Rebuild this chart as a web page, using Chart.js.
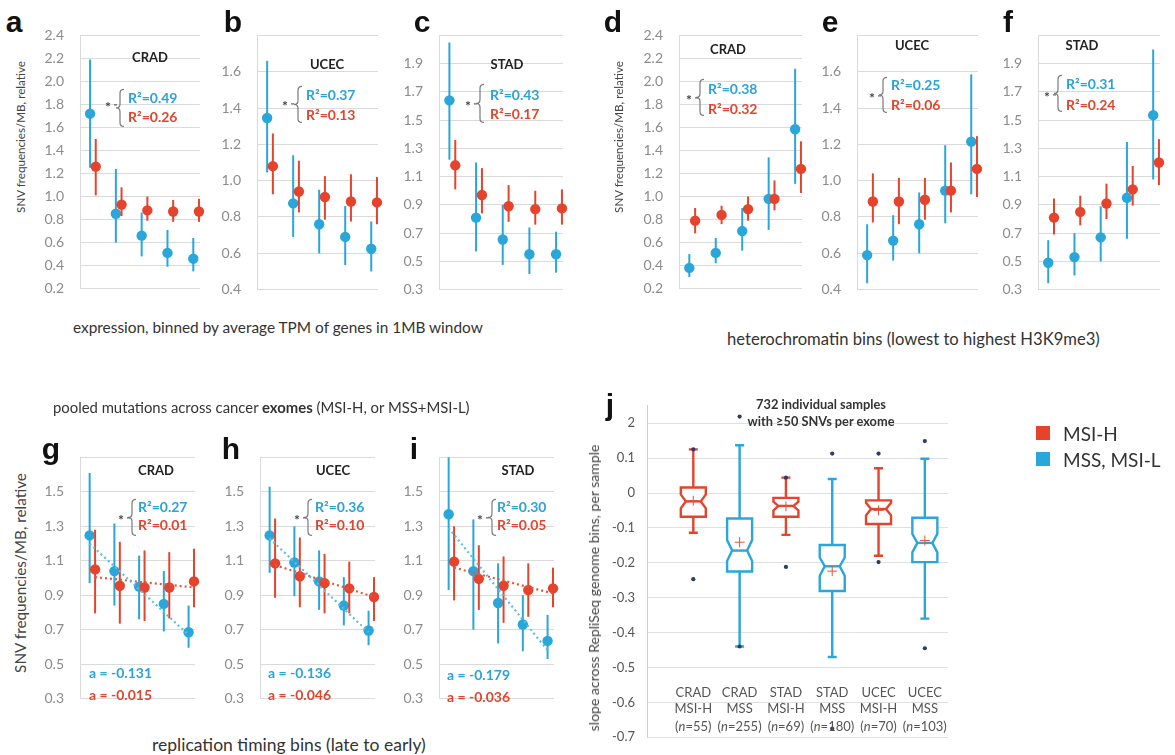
<!DOCTYPE html>
<html>
<head>
<meta charset="utf-8">
<title>SNV frequencies per MB</title>
<script src="https://cdn.jsdelivr.net/npm/chart.js@4.4.1/dist/chart.umd.min.js"></script>
<style>
  body { margin: 0; width: 1175px; height: 755px; position: relative; overflow: hidden; background: #fff; font-family: Lato, sans-serif; }
  .panel { position: absolute; }
  .t { position: absolute; white-space: nowrap; line-height: 1; color: #333; }
  .sq { position: absolute; width: 14px; height: 14px; }
</style>
</head>
<body>
<script>
// ---------------- data ----------------
const bins = [1, 2, 3, 4, 5];

// y tick values per panel layout
const ticks24 = [0.2, 0.4, 0.6, 0.8, 1.0, 1.2, 1.4, 1.6, 1.8, 2.0, 2.2, 2.4];
const ticks18 = [0.4, 0.6, 0.8, 1.0, 1.2, 1.4, 1.6, 1.8];
const ticks21 = [0.3, 0.5, 0.7, 0.9, 1.1, 1.3, 1.5, 1.7, 1.9, 2.1];
const ticks17 = [0.3, 0.5, 0.7, 0.9, 1.1, 1.3, 1.5, 1.7];

// a: expression, CRAD
const aBlue = [1.72, 0.85, 0.66, 0.51, 0.46];
const aBlueLo = [1.25, 0.60, 0.48, 0.39, 0.35];
const aBlueHi = [2.19, 1.24, 0.86, 0.71, 0.64];
const aRed = [1.26, 0.93, 0.88, 0.87, 0.87];
const aRedLo = [1.01, 0.83, 0.79, 0.78, 0.78];
const aRedHi = [1.50, 1.08, 1.00, 0.97, 0.98];

// b: expression, UCEC
const bBlue = [1.345, 0.875, 0.76, 0.69, 0.625];
const bBlueLo = [1.045, 0.69, 0.60, 0.535, 0.50];
const bBlueHi = [1.66, 1.14, 0.95, 0.86, 0.775];
const bRed = [1.08, 0.94, 0.91, 0.885, 0.88];
const bRedLo = [0.925, 0.825, 0.785, 0.775, 0.76];
const bRedHi = [1.26, 1.11, 1.025, 1.035, 1.02];

// c: expression, STAD
const cBlue = [1.64, 0.81, 0.655, 0.55, 0.55];
const cBlueLo = [1.22, 0.57, 0.475, 0.41, 0.42];
const cBlueHi = [2.05, 1.20, 0.90, 0.74, 0.71];
const cRed = [1.18, 0.97, 0.89, 0.87, 0.875];
const cRedLo = [1.01, 0.84, 0.78, 0.76, 0.76];
const cRedHi = [1.36, 1.16, 1.04, 1.00, 1.01];

// d: heterochromatin, CRAD
const dBlue = [0.38, 0.51, 0.70, 0.98, 1.585];
const dBlueLo = [0.30, 0.42, 0.53, 0.71, 1.11];
const dBlueHi = [0.50, 0.64, 0.90, 1.34, 2.11];
const dRed = [0.79, 0.84, 0.89, 0.98, 1.24];
const dRedLo = [0.68, 0.76, 0.79, 0.88, 1.03];
const dRedHi = [0.90, 0.92, 1.00, 1.14, 1.48];

// e: heterochromatin, UCEC
const eBlue = [0.59, 0.67, 0.76, 0.945, 1.215];
const eBlueLo = [0.435, 0.56, 0.60, 0.765, 0.925];
const eBlueHi = [0.76, 0.81, 0.935, 1.195, 1.585];
const eRed = [0.885, 0.885, 0.895, 0.945, 1.065];
const eRedLo = [0.77, 0.76, 0.785, 0.825, 0.91];
const eRedHi = [1.04, 1.015, 1.015, 1.10, 1.245];

// f: heterochromatin, STAD
const fBlue = [0.49, 0.53, 0.67, 0.95, 1.535];
const fBlueLo = [0.345, 0.40, 0.50, 0.66, 1.08];
const fBlueHi = [0.65, 0.70, 0.89, 1.345, 2.0];
const fRed = [0.81, 0.85, 0.91, 1.01, 1.20];
const fRedLo = [0.69, 0.755, 0.80, 0.895, 1.04];
const fRedHi = [0.945, 0.965, 1.05, 1.175, 1.365];

// g: replication timing, CRAD
const gBlue = [1.247, 1.04, 0.95, 0.85, 0.685];
const gBlueLo = [0.97, 0.84, 0.76, 0.69, 0.595];
const gBlueHi = [1.61, 1.316, 1.13, 1.04, 0.84];
const gRed = [1.05, 0.955, 0.945, 0.945, 0.98];
const gRedLo = [0.795, 0.735, 0.75, 0.765, 0.83];
const gRedHi = [1.28, 1.21, 1.16, 1.15, 1.17];
const gTrendBlue = [1.20, 0.67];
const gTrendRed = [1.005, 0.945];

// h: replication timing, UCEC
const hBlue = [1.247, 1.09, 0.98, 0.84, 0.695];
const hBlueLo = [1.03, 0.895, 0.815, 0.725, 0.61];
const hBlueHi = [1.53, 1.30, 1.16, 1.005, 0.81];
const hRed = [1.085, 1.01, 0.97, 0.94, 0.89];
const hRedLo = [0.885, 0.83, 0.795, 0.795, 0.75];
const hRedHi = [1.345, 1.235, 1.14, 1.095, 1.005];
const hTrendBlue = [1.23, 0.685];
const hTrendRed = [1.075, 0.89];

// i: replication timing, STAD
const iBlue = [1.37, 1.04, 0.855, 0.73, 0.635];
const iBlueLo = [0.93, 0.70, 0.62, 0.575, 0.53];
const iBlueHi = [1.70, 1.34, 1.085, 0.90, 0.785];
const iRed = [1.095, 0.995, 0.955, 0.93, 0.94];
const iRedLo = [0.87, 0.815, 0.74, 0.775, 0.83];
const iRedHi = [1.30, 1.19, 1.125, 1.085, 1.06];
const iTrendBlue = [1.29, 0.58];
const iTrendRed = [1.06, 0.91];

// j: per-sample slopes (box plots)
const jCancer = ['CRAD', 'CRAD', 'STAD', 'STAD', 'UCEC', 'UCEC'];
const jGroup = ['MSI-H', 'MSS', 'MSI-H', 'MSS', 'MSI-H', 'MSS'];
const jN = [55, 255, 69, 180, 70, 103];
const jQ3 = [0.016, -0.073, -0.014, -0.149, -0.021, -0.071];
const jQ1 = [-0.068, -0.225, -0.068, -0.281, -0.089, -0.198];
const jMedian = [-0.024, -0.165, -0.037, -0.21, -0.046, -0.143];
const jNotchHi = [-0.004, -0.135, -0.025, -0.185, -0.028, -0.117];
const jNotchLo = [-0.044, -0.195, -0.05, -0.237, -0.064, -0.17];
const jWhiskHi = [0.125, 0.137, 0.044, 0.04, 0.071, 0.098];
const jWhiskLo = [-0.114, -0.44, -0.12, -0.47, -0.18, -0.36];
const jMean = [-0.022, -0.141, -0.038, -0.224, -0.05, -0.136];
const jOutPos = [1, 1, 2, 2, 3, 3, 4, 4, 5, 5, 6, 6];
const jOutVal = [0.125, -0.247, 0.219, -0.44, 0.044, -0.212, 0.113, -0.675, 0.113, -0.198, 0.149, -0.445];
const jTicks = [0.2, 0.1, 0, -0.1, -0.2, -0.3, -0.4, -0.5, -0.6, -0.7];
const jTickText = ['2', '0.1', '0', '-0.1', '-0.2', '-0.3', '-0.4', '-0.5', '-0.6', '-0.7'];

// ---------------- styles ----------------
const BLUE = '#29a6da';
const RED = '#e5432c';
const BLUE_TXT = '#2aa3d6';
const RED_TXT = '#e0452d';
const GRID = '#dadada';
const OFF = 0.11; // horizontal offset of the two series inside a bin

Chart.defaults.font.family = 'Lato';
Chart.defaults.animation = false;

// vertical error bars, drawn just before each dataset's points
const errorBars = {
  id: 'errorBars',
  beforeDatasetDraw(chart, args) {
    const ds = chart.data.datasets[args.index];
    if (!ds.lo) return;
    const ys = chart.scales.y;
    const ctx = chart.ctx;
    ctx.save();
    ctx.strokeStyle = ds.barColor;
    ctx.lineWidth = 2;
    args.meta.data.forEach((pt, k) => {
      ctx.beginPath();
      ctx.moveTo(pt.x, ys.getPixelForValue(ds.lo[k]));
      ctx.lineTo(pt.x, ys.getPixelForValue(ds.hi[k]));
      ctx.stroke();
    });
    ctx.restore();
  }
};

function drawBrace(ctx, x, ya, yb) {
  const m = (ya + yb) / 2, w = 4;
  ctx.beginPath();
  ctx.moveTo(x + w, ya);
  ctx.quadraticCurveTo(x, ya, x, ya + w);
  ctx.lineTo(x, m - w);
  ctx.quadraticCurveTo(x, m, x - w, m);
  ctx.quadraticCurveTo(x, m, x, m + w);
  ctx.lineTo(x, yb - w);
  ctx.quadraticCurveTo(x, yb, x + w, yb);
  ctx.stroke();
}

// panel title, significance brace and R2 / slope annotations
const notes = {
  id: 'notes',
  afterDraw(chart, args, o) {
    if (!o || !o.title) return;
    const ctx = chart.ctx;
    const L = chart.chartArea.left, T = chart.chartArea.top;
    ctx.save();
    ctx.textBaseline = 'middle';
    ctx.textAlign = 'center';
    ctx.fillStyle = '#222';
    ctx.font = 'bold 13px Lato';
    ctx.fillText(o.title, L + o.tx, T + o.ty);

    ctx.fillStyle = '#444';
    ctx.font = 'bold 14px Lato';
    ctx.fillText('*', L + o.sx, T + o.sy + 3);
    ctx.fillRect(L + o.sx + 6, T + o.sy, 3, 1);
    ctx.strokeStyle = '#7a7a7a';
    ctx.lineWidth = 1.2;
    drawBrace(ctx, L + o.bx, T + o.by[0], T + o.by[1]);

    ctx.textAlign = 'left';
    ctx.fillStyle = BLUE_TXT;
    ctx.fillText('R\u00b2=' + o.r2[0], L + o.rx, T + o.ry[0]);
    ctx.fillStyle = RED_TXT;
    ctx.fillText('R\u00b2=' + o.r2[1], L + o.rx, T + o.ry[1]);

    if (o.a) {
      ctx.fillStyle = BLUE_TXT;
      ctx.fillText('a = ' + o.a[0], L + o.ax, T + o.ay[0]);
      ctx.fillStyle = RED_TXT;
      ctx.fillText('a = ' + o.a[1], L + o.ax, T + o.ay[1]);
    }
    ctx.restore();
  }
};

function makeScatter(p) {
  const [x0, y0, x1, y1] = p.box;
  const YW = 46, PADT = 12, PADB = 12, PADR = 8;
  const cv = document.createElement('canvas');
  cv.width = (x1 - x0) + YW + PADR;
  cv.height = (y1 - y0) + PADT + PADB;
  cv.className = 'panel';
  cv.style.left = (x0 - YW) + 'px';
  cv.style.top = (y0 - PADT) + 'px';
  document.body.appendChild(cv);

  const yMin = p.ticks[0], yMax = p.ticks[p.ticks.length - 1];
  const datasets = [
    {
      label: 'MSI-H',
      data: p.red.map((v, k) => ({ x: bins[k] + OFF, y: v })),
      lo: p.redLo, hi: p.redHi, barColor: RED,
      backgroundColor: RED, borderColor: RED, pointRadius: 5.2, borderWidth: 0, clip: false
    },
    {
      label: 'MSS, MSI-L',
      data: p.blue.map((v, k) => ({ x: bins[k] - OFF, y: v })),
      lo: p.blueLo, hi: p.blueHi, barColor: BLUE,
      backgroundColor: BLUE, borderColor: BLUE, pointRadius: 5.2, borderWidth: 0, clip: false
    }
  ];
  if (p.trendBlue) {
    datasets.push({
      type: 'line', order: -1,
      data: [{ x: bins[0] - OFF, y: p.trendBlue[0] }, { x: bins[4] - OFF, y: p.trendBlue[1] }],
      borderColor: '#5cbde6', borderWidth: 2.2, borderDash: [2, 3], pointRadius: 0, clip: false
    });
    datasets.push({
      type: 'line', order: -1,
      data: [{ x: bins[0] + OFF, y: p.trendRed[0] }, { x: bins[4] + OFF, y: p.trendRed[1] }],
      borderColor: '#e0593f', borderWidth: 2.2, borderDash: [2, 3], pointRadius: 0, clip: false
    });
  }

  new Chart(cv, {
    type: 'scatter',
    data: { datasets },
    options: {
      responsive: false,
      devicePixelRatio: 1,
      layout: { padding: { top: PADT, bottom: PADB, right: PADR, left: 0 } },
      plugins: { legend: { display: false }, tooltip: { enabled: false }, notes: p.notes },
      scales: {
        x: { type: 'linear', min: 0.5, max: 5.15, display: false },
        y: {
          min: yMin, max: yMax,
          afterBuildTicks: s => { s.ticks = p.ticks.map(v => ({ value: v })); },
          afterFit: s => { s.width = YW; },
          grid: { color: GRID, drawTicks: false },
          border: { color: GRID },
          ticks: {
            padding: 16, color: '#8c8c8c', font: { size: 14 },
            callback: v => (p.hideTop && Math.abs(v - yMax) < 1e-9) ? '' : v.toFixed(1)
          }
        }
      }
    },
    plugins: [errorBars, notes]
  });
}

const panels = [
  { box: [80, 23, 200, 301], ticks: ticks24, hideTop: false,
    blue: aBlue, blueLo: aBlueLo, blueHi: aBlueHi, red: aRed, redLo: aRedLo, redHi: aRedHi,
    notes: { title: 'CRAD', tx: 70, ty: 22, sx: 28, sy: 69, bx: 40, by: [54, 91], rx: 48, ry: [63, 82], r2: ['0.49', '0.26'] } },
  { box: [257, 23, 378, 302], ticks: ticks18, hideTop: true,
    blue: bBlue, blueLo: bBlueLo, blueHi: bBlueHi, red: bRed, redLo: bRedLo, redHi: bRedHi,
    notes: { title: 'UCEC', tx: 70, ty: 29, sx: 28, sy: 68, bx: 41, by: [51, 87], rx: 49, ry: [60, 80], r2: ['0.37', '0.13'] } },
  { box: [439, 23, 563, 302], ticks: ticks21, hideTop: true,
    blue: cBlue, blueLo: cBlueLo, blueHi: cBlueHi, red: cRed, redLo: cRedLo, redHi: cRedHi,
    notes: { title: 'STAD', tx: 68, ty: 29, sx: 29, sy: 68, bx: 41, by: [49, 87], rx: 51, ry: [60, 79], r2: ['0.43', '0.17'] } },
  { box: [679, 23, 802, 301], ticks: ticks24, hideTop: false,
    blue: dBlue, blueLo: dBlueLo, blueHi: dBlueHi, red: dRed, redLo: dRedLo, redHi: dRedHi,
    notes: { title: 'CRAD', tx: 49, ty: 14, sx: 10, sy: 62, bx: 21, by: [44, 80], rx: 29, ry: [54, 74], r2: ['0.38', '0.32'] } },
  { box: [857, 23, 978, 302], ticks: ticks18, hideTop: true,
    blue: eBlue, blueLo: eBlueLo, blueHi: eBlueHi, red: eRed, redLo: eRedLo, redHi: eRedHi,
    notes: { title: 'UCEC', tx: 55, ty: 10, sx: 15, sy: 60, bx: 26, by: [42, 77], rx: 34, ry: [50, 70], r2: ['0.25', '0.06'] } },
  { box: [1038, 23, 1160, 302], ticks: ticks21, hideTop: true,
    blue: fBlue, blueLo: fBlueLo, blueHi: fBlueHi, red: fRed, redLo: fRedLo, redHi: fRedHi,
    notes: { title: 'STAD', tx: 44, ty: 10, sx: 9, sy: 59, bx: 20, by: [40, 76], rx: 28, ry: [49, 70], r2: ['0.31', '0.24'] } },
  { box: [80, 445, 195, 711], ticks: ticks17, hideTop: true,
    blue: gBlue, blueLo: gBlueLo, blueHi: gBlueHi, red: gRed, redLo: gRedLo, redHi: gRedHi,
    trendBlue: gTrendBlue, trendRed: gTrendRed,
    notes: { title: 'CRAD', tx: 76, ty: 13, sx: 41, sy: 60, bx: 52, by: [42, 78], rx: 58, ry: [50, 68], r2: ['0.27', '0.01'],
             ax: 9, ay: [216, 238], a: ['-0.131', '-0.015'] } },
  { box: [260, 445, 375, 711], ticks: ticks17, hideTop: true,
    blue: hBlue, blueLo: hBlueLo, blueHi: hBlueHi, red: hRed, redLo: hRedLo, redHi: hRedHi,
    trendBlue: hTrendBlue, trendRed: hTrendRed,
    notes: { title: 'UCEC', tx: 73, ty: 13, sx: 37, sy: 60, bx: 48, by: [42, 78], rx: 55, ry: [50, 68], r2: ['0.36', '0.10'],
             ax: 8, ay: [216, 238], a: ['-0.136', '-0.046'] } },
  { box: [439, 445, 554, 711], ticks: ticks17, hideTop: true,
    blue: iBlue, blueLo: iBlueLo, blueHi: iBlueHi, red: iRed, redLo: iRedLo, redHi: iRedHi,
    trendBlue: iTrendBlue, trendRed: iTrendRed,
    notes: { title: 'STAD', tx: 79, ty: 13, sx: 41, sy: 60, bx: 53, by: [42, 78], rx: 58, ry: [50, 68], r2: ['0.30', '0.05'],
             ax: 8, ay: [218, 240], a: ['-0.179', '-0.036'] } }
];
panels.forEach(makeScatter);

// ---------------- panel j: notched box plots ----------------
const boxes = {
  id: 'boxes',
  beforeDatasetsDraw(chart) {
    const ctx = chart.ctx, xs = chart.scales.x, ys = chart.scales.y;
    const hw = 12.5, nw = 7.5, cap = 4.5;
    ctx.save();
    ctx.lineWidth = 2.4;
    jMedian.forEach((m, k) => {
      const c = xs.getPixelForValue(k + 1);
      const col = jGroup[k] === 'MSI-H' ? RED : BLUE;
      const Y = v => ys.getPixelForValue(v);
      ctx.strokeStyle = col;
      // whiskers
      ctx.beginPath();
      ctx.moveTo(c, Y(jQ3[k])); ctx.lineTo(c, Y(jWhiskHi[k]));
      ctx.moveTo(c - cap, Y(jWhiskHi[k])); ctx.lineTo(c + cap, Y(jWhiskHi[k]));
      ctx.moveTo(c, Y(jQ1[k])); ctx.lineTo(c, Y(jWhiskLo[k]));
      ctx.moveTo(c - cap, Y(jWhiskLo[k])); ctx.lineTo(c + cap, Y(jWhiskLo[k]));
      ctx.stroke();
      // notched box
      ctx.beginPath();
      ctx.moveTo(c - hw, Y(jQ3[k]));
      ctx.lineTo(c + hw, Y(jQ3[k]));
      ctx.lineTo(c + hw, Y(jNotchHi[k]));
      ctx.lineTo(c + nw, Y(m));
      ctx.lineTo(c + hw, Y(jNotchLo[k]));
      ctx.lineTo(c + hw, Y(jQ1[k]));
      ctx.lineTo(c - hw, Y(jQ1[k]));
      ctx.lineTo(c - hw, Y(jNotchLo[k]));
      ctx.lineTo(c - nw, Y(m));
      ctx.lineTo(c - hw, Y(jNotchHi[k]));
      ctx.closePath();
      ctx.fillStyle = '#fff';
      ctx.fill();
      ctx.stroke();
      ctx.beginPath();
      ctx.moveTo(c - nw, Y(m)); ctx.lineTo(c + nw, Y(m));
      ctx.stroke();
    });
    ctx.restore();
  },
  afterDraw(chart) {
    const ctx = chart.ctx, xs = chart.scales.x, ca = chart.chartArea;
    ctx.save();
    ctx.fillStyle = '#555';
    ctx.textBaseline = 'middle';
    ctx.textAlign = 'center';
    ctx.font = '13px Lato';
    jCancer.forEach((name, k) => {
      const c = xs.getPixelForValue(k + 1);
      ctx.fillText(name, c, ca.bottom - 44);
      ctx.fillText(jGroup[k], c, ca.bottom - 28);
      // "(n=55)" with italic n
      const a = '(', b = 'n', d = '=' + jN[k] + ')';
      ctx.font = '13px Lato';
      const wa = ctx.measureText(a).width, wd = ctx.measureText(d).width;
      ctx.font = 'italic 13px Lato';
      const wb = ctx.measureText(b).width;
      let x = c - (wa + wb + wd) / 2;
      const y = ca.bottom - 10;
      ctx.textAlign = 'left';
      ctx.font = '13px Lato'; ctx.fillText(a, x, y); x += wa;
      ctx.font = 'italic 13px Lato'; ctx.fillText(b, x, y); x += wb;
      ctx.font = '13px Lato'; ctx.fillText(d, x, y);
      ctx.textAlign = 'center';
    });
    ctx.restore();
  }
};

(function makeBoxPanel() {
  const x0 = 647, y0 = 396, x1 = 948, y1 = 747;
  const YW = 60, PADT = 10, PADB = 10, PADR = 6;
  const cv = document.createElement('canvas');
  cv.width = (x1 - x0) + YW + PADR;
  cv.height = (y1 - y0) + PADT + PADB;
  cv.className = 'panel';
  cv.style.left = (x0 - YW) + 'px';
  cv.style.top = (y0 - PADT) + 'px';
  document.body.appendChild(cv);

  new Chart(cv, {
    type: 'scatter',
    data: {
      datasets: [
        {
          label: 'mean',
          data: jMean.map((v, k) => ({ x: k + 1, y: v })),
          pointStyle: 'cross', pointRadius: 5, borderColor: '#e0553f', borderWidth: 1
        },
        {
          label: 'outliers',
          data: jOutPos.map((x, k) => ({ x, y: jOutVal[k] })),
          pointRadius: 2.1, backgroundColor: '#2e3a6a', borderWidth: 0, clip: false
        }
      ]
    },
    options: {
      responsive: false,
      devicePixelRatio: 1,
      layout: { padding: { top: PADT, bottom: PADB, right: PADR, left: 0 } },
      plugins: { legend: { display: false }, tooltip: { enabled: false } },
      scales: {
        x: { type: 'linear', min: 0, max: 6.5, display: false },
        y: {
          min: -0.7, max: 0.25,
          afterBuildTicks: s => { s.ticks = jTicks.map(v => ({ value: v })); },
          afterFit: s => { s.width = YW; },
          grid: { color: '#e0e0e0', drawTicks: false },
          border: { color: '#cfcfcf' },
          ticks: {
            padding: 12, color: '#555', font: { size: 13 },
            callback: v => {
              const i = jTicks.findIndex(t => Math.abs(t - v) < 1e-9);
              return i < 0 ? '' : jTickText[i];
            }
          }
        }
      }
    },
    plugins: [boxes]
  });
})();

// ---------------- static text ----------------
function addText(html, cx, cy, size, o = {}) {
  const el = document.createElement('div');
  el.className = 't';
  el.innerHTML = html;
  el.style.fontSize = size + 'px';
  if (o.family) el.style.fontFamily = o.family;
  if (o.bold) el.style.fontWeight = '700';
  if (o.color) el.style.color = o.color;
  document.body.appendChild(el);
  if (o.fit) {
    const w = el.getBoundingClientRect().width;
    el.style.fontSize = (size * o.fit / w) + 'px';
  }
  let x = cx;
  if (o.left != null) x = o.left + el.getBoundingClientRect().width / 2;
  el.style.left = x + 'px';
  el.style.top = cy + 'px';
  el.style.transform = 'translate(-50%,-50%)' + (o.rot ? ' rotate(-90deg)' : '');
}

const letterStyle = { bold: true, family: '"Liberation Sans", Arial, sans-serif', color: '#111' };
[['a', 14, 22], ['b', 233, 22], ['c', 422, 22], ['d', 613, 22], ['e', 830, 22], ['f', 1008, 22],
 ['g', 51, 449], ['h', 231, 449], ['i', 414, 449], ['j', 610, 405]]
  .forEach(([s, x, y]) => addText(s, x, y, 30, letterStyle));

addText('expression, binned by average TPM of genes in 1MB window', 0, 328, 16, { left: 73, fit: 410 });
addText('heterochromatin bins (lowest to highest H3K9me3)', 0, 339, 16, { left: 727, fit: 373 });
addText('pooled mutations across cancer <b>exomes</b> (MSI-H, or MSS+MSI-L)', 0, 407, 16, { left: 53, fit: 417 });
addText('replication timing bins (late to early)', 0, 745, 16, { left: 152, fit: 274 });

addText('SNV frequencies/MB, relative', 21, 137, 14, { rot: true, fit: 152, color: '#444' });
addText('SNV frequencies/MB, relative', 619, 137, 14, { rot: true, fit: 152, color: '#444' });
addText('SNV frequencies/MB, relative', 21, 573, 14, { rot: true, fit: 200, color: '#444' });
addText('slope across RepliSeq genome bins, per sample', 594, 588, 13, { rot: true, fit: 287, color: '#444' });

addText('732 individual samples', 821, 404, 14, { bold: true, fit: 130 });
addText('with \u226550 SNVs per exome', 821, 421, 14, { bold: true, fit: 147 });

// legend
[[RED, 'MSI-H', 433], [BLUE, 'MSS, MSI-L', 459]].forEach(([col, label, cy]) => {
  const sq = document.createElement('div');
  sq.className = 'sq';
  sq.style.background = col;
  sq.style.left = '1036px';
  sq.style.top = (cy - 7) + 'px';
  document.body.appendChild(sq);
  addText(label, 0, cy, 19, { left: 1063 });
});
</script>
</body>
</html>
